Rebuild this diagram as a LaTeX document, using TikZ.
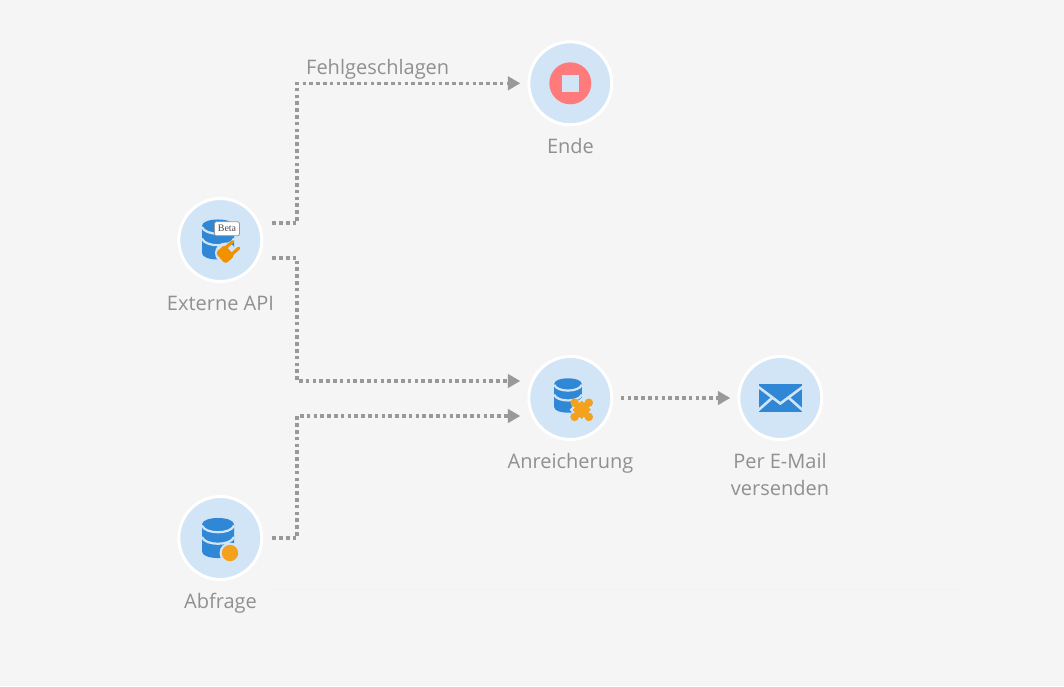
\documentclass[tikz,border=0pt]{standalone}
\usepackage{fontspec}
\setmainfont{Open Sans}
\newfontfamily\betafont{Liberation Serif}
\usetikzlibrary{arrows.meta,calc}
\definecolor{bgc}{HTML}{F5F5F5}
\definecolor{faint}{HTML}{F2F2F2}
\definecolor{disc}{HTML}{D2E5F6}
\definecolor{iconblue}{HTML}{2F87D5}
\definecolor{flowgray}{HTML}{999999}
\definecolor{labelgray}{HTML}{909090}
\definecolor{stopred}{HTML}{FF7B7B}
\definecolor{orangea}{HTML}{F4A11E}
\definecolor{orangeb}{HTML}{F29100}
\tikzset{
  stepdisc/.style={circle,draw=white,line width=3pt,fill=disc,minimum size=83pt,inner sep=0pt},
  lab/.style={text=labelgray,font=\fontsize{20}{27}\selectfont,inner sep=0pt,align=center},
  flow/.style={draw=flowgray,line width=3.5pt,dash pattern=on 3.6pt off 3.2pt,
    shorten <=9pt,shorten >=7pt,-{Triangle[length=12.5pt,width=13.5pt,fill=flowgray]}},
  band/.style={draw=disc,line width=2.2pt},
}
\newcommand{\dbicon}[2]{%
  \begin{scope}[shift={#1},scale=#2]
    \fill[iconblue] (-16,-13.5) .. controls (-16,-22.2) and (16,-22.2) .. (16,-13.5)
      -- (16,13.5) .. controls (16,22.2) and (-16,22.2) .. (-16,13.5) -- cycle;
    \draw[band] (-16,-12.5) .. controls (-13,-3.5) and (13,-3.5) .. (16,-12.5);
    \draw[band] (-16,-1) .. controls (-13,8) and (13,8) .. (16,-1);
  \end{scope}}
\begin{document}
\begin{tikzpicture}[x=1pt,y=-1pt]
\useasboundingbox (0,0) rectangle (1064,686);
\fill[bgc] (0,0) rectangle (1064,686);
\draw[color=faint,line width=1pt] (270,589.5) -- (960,589.5);

\node[stepdisc] (ende) at (570.3,83.3) {};
\node[stepdisc] (ext) at (220.3,240) {};
\node[stepdisc] (anr) at (570.3,398) {};
\node[stepdisc] (mail) at (780.3,398) {};
\node[stepdisc] (abf) at (220.3,538) {};

% stop icon
\fill[stopred] (ende.center) circle[radius=21];
\fill[disc] (561.5,74.5) rectangle (579,92);

% external API icon
\dbicon{(218,239.5)}{1}
\fill[disc] (225.5,253) circle[radius=10.5];
\begin{scope}[shift={(226,253.5)},rotate=42]
  \fill[orangeb,rounded corners=3pt] (-7.5,-7.5) rectangle (5,7.5);
  \draw[orangeb,line width=3.2pt,line cap=round] (2,-4.5) -- (13,-4.5);
  \draw[orangeb,line width=3.2pt,line cap=round] (2,4.5) -- (13,4.5);
\end{scope}
\node[draw=black!40,fill=white,rounded corners=2pt,line width=.8pt,minimum width=25pt,minimum height=14pt,inner sep=0pt,text=black!70,font=\betafont\fontsize{10}{10}\selectfont] (beta) at (227,228.7) {Beta};

% query icon
\dbicon{(218,538)}{1}
\fill[disc] (230,553) circle[radius=10.5];
\fill[orangea] (230,553) circle[radius=8.2];

% enrichment icon
\dbicon{(568,395.5)}{.86}
\begin{scope}[shift={(581.7,409.8)},rotate=45]
  \draw[disc,line width=10pt] (-9,0) -- (9,0) (0,-9) -- (0,9);
  \fill[disc] (-8.5,-8.5) rectangle (8.5,8.5);
  \fill[orangea] (-6.5,-6.5) rectangle (6.5,6.5);
  \draw[orangea,line width=6pt] (-9,0) -- (9,0) (0,-9) -- (0,9);
  \foreach \a in {0,90,180,270}
    \fill[orangea] (\a:10) circle[radius=4.3];
\end{scope}

% mail icon
\fill[iconblue] (759.3,384) rectangle (801.7,412.3);
\draw[disc,line width=2.6pt] (758.5,387) -- (780.3,403.5) -- (802.5,387);
\draw[disc,line width=2.6pt] (758.5,410) -- (772,398);
\draw[disc,line width=2.6pt] (802.5,410) -- (789,398);

% labels
\node[lab,anchor=base] (lende) at (570.5,153) {Ende};
\node[lab,anchor=base] (lext) at (220.5,310) {Externe API};
\node[lab,anchor=base] (lanr) at (570.5,468) {Anreicherung};
\node[lab] (lmail) at (780,474.5) {Per E-Mail\\versenden};
\node[lab,anchor=base] (labf) at (220.5,608) {Abfrage};
\node[lab,anchor=base west] (lfail) at (306,74) {Fehlgeschlagen};

% connectors
\coordinate (b1) at (297,83.3);
\coordinate (b2) at (297,381);
\coordinate (b3) at (297,416);
\draw[flow] ([yshift=17pt]ext.east) -| (b1) -- (ende.west);
\draw[flow] ([yshift=-18pt]ext.east) -| (b2) -- ([yshift=17pt]anr.west);
\draw[flow] (abf.east) -| (b3) -- ([yshift=-18pt]anr.west);
\draw[flow] (anr) ++(41.5,0) -- (mail.west);
\end{tikzpicture}
\end{document}
